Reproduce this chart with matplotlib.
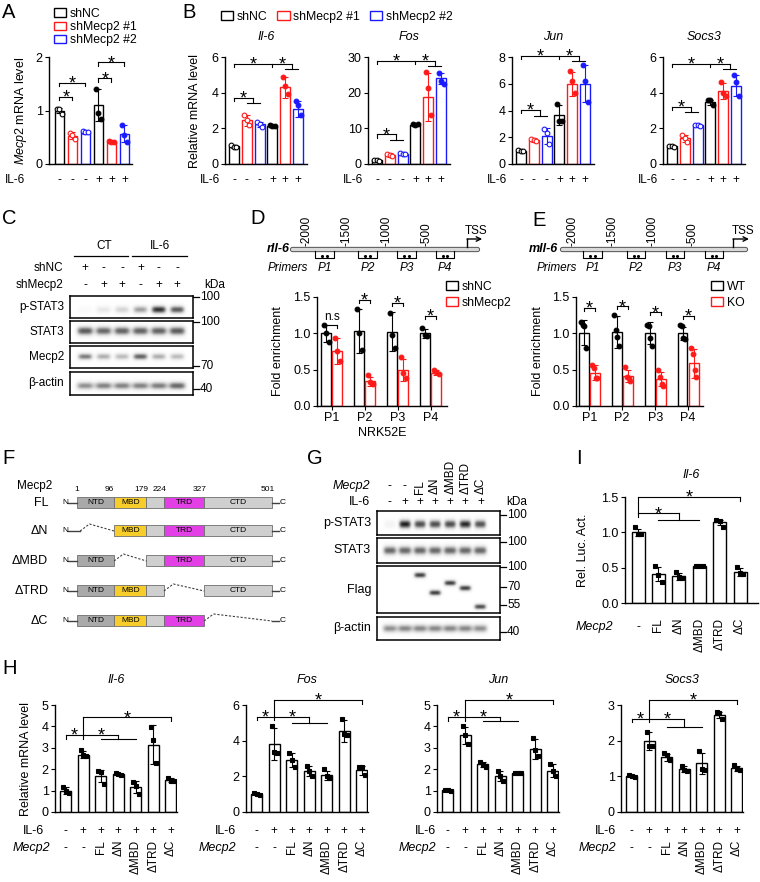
"""Mecp2 / IL-6 multi-panel figure (A-I) rebuilt with matplotlib"""
import numpy as np
import matplotlib
matplotlib.use('Agg')
import matplotlib.pyplot as plt
from matplotlib.patches import Rectangle, Patch

plt.rcParams['font.family'] = ['Liberation Sans', 'DejaVu Sans']
plt.rcParams['mathtext.fontset'] = 'custom'
plt.rcParams['mathtext.rm'] = 'Liberation Sans'
plt.rcParams['mathtext.it'] = 'Liberation Sans:italic'
plt.rcParams['font.size'] = 8.5
plt.rcParams['axes.linewidth'] = 1.0
plt.rcParams['axes.facecolor'] = 'none'

W, H = 760, 882
RED = '#ff1a1a'
BLUE = '#1a1aff'
FS = 8.5

# ---------------- data ----------------
sh_labels = ['shNC', 'shMecp2 #1', 'shMecp2 #2']
sh_colors = ['black', RED, BLUE]
il6_ab = ['-', '-', '-', '+', '+', '+']

# A
a_mean = [1.0, 0.53, 0.6, 1.1, 0.42, 0.57]
a_err = [0.05, 0.07, 0.03, 0.3, 0.02, 0.15]
a_pts = [[1.03, 1.03, 0.93], [0.58, 0.55, 0.47], [0.62, 0.6, 0.6],
         [1.4, 0.95, 0.85], [0.43, 0.42, 0.41], [0.72, 0.55, 0.42]]

# B
b_genes = ['Il-6', 'Fos', 'Jun', 'Socs3']
b_ymax = [6, 30, 8, 6]
b_yticks = [[0, 2, 4, 6], [0, 10, 20, 30], [0, 2, 4, 6, 8], [0, 2, 4, 6]]
b_mean = [[1.0, 2.45, 2.22, 2.15, 4.3, 3.1],
          [1.0, 2.5, 2.9, 11.0, 18.7, 24.0],
          [1.0, 1.8, 2.1, 3.65, 6.0, 6.0],
          [1.0, 1.45, 2.18, 3.45, 4.12, 4.4]]
b_err = [[0.08, 0.3, 0.15, 0.05, 0.6, 0.45],
         [0.2, 0.5, 0.2, 0.3, 6.7, 1.5],
         [0.08, 0.12, 0.6, 0.75, 0.9, 1.4],
         [0.05, 0.2, 0.05, 0.15, 0.45, 0.6]]
b_pts = [[[1.05, 0.98, 0.95], [2.75, 2.45, 2.2], [2.35, 2.25, 2.05],
          [2.2, 2.15, 2.13], [4.9, 4.35, 3.95], [3.55, 3.3, 2.75]],
         [[1.1, 1.0, 0.9], [2.9, 2.4, 2.3], [3.0, 2.9, 2.9],
          [11.2, 11.0, 11.1], [25.8, 21.2, 13.6], [25.5, 23.3, 22.4]],
         [[1.05, 1.0, 0.95], [1.9, 1.82, 1.75], [2.65, 2.3, 1.5],
          [4.45, 3.25, 3.2], [6.95, 6.2, 5.3], [7.4, 6.2, 4.6]],
         [[1.03, 1.0, 0.98], [1.6, 1.45, 1.25], [2.2, 2.2, 2.15],
          [3.6, 3.6, 3.3], [4.6, 4.0, 3.8], [5.0, 4.6, 3.8]]]
b_lo_brk = [(3.7, 3.4), (8.3, 6.8), (4.05, 3.6), (3.2, 2.9)]
b_hi_brk = [(5.6, 5.3), (29.0, 27.5), (8.1, 7.7), (5.6, 5.33)]

# C (band intensities, lanes left to right)
c_shnc = ['+', '-', '-', '+', '-', '-']
c_shmecp2 = ['-', '+', '+', '-', '+', '+']
c_pstat3 = [0.05, 0.18, 0.28, 0.5, 0.9, 0.75]
c_stat3 = [0.75, 0.7, 0.72, 0.72, 0.72, 0.75]
c_mecp2 = [0.62, 0.45, 0.4, 0.72, 0.45, 0.4]
c_actin = [0.55, 0.6, 0.6, 0.6, 0.62, 0.7]

# D / E
primer_names = ['P1', 'P2', 'P3', 'P4']
prom_ticks = [-2000, -1500, -1000, -500]
d_primers = [(-1900, -1662), (-1362, -1125), (-875, -637), (-387, -162)]
e_primers = [(-1875, -1637), (-1325, -1100), (-837, -612), (-350, -125)]
d_ctrl_mean = [1.0, 1.03, 1.02, 1.0]
d_ctrl_err = [0.12, 0.3, 0.27, 0.06]
d_ctrl_pts = [[1.12, 1.0, 0.88], [1.34, 1.0, 0.77], [1.28, 0.98, 0.8], [1.07, 0.98, 0.96]]
d_kd_mean = [0.76, 0.34, 0.49, 0.46]
d_kd_err = [0.18, 0.06, 0.15, 0.03]
d_kd_pts = [[0.94, 0.75, 0.62], [0.42, 0.33, 0.3], [0.68, 0.45, 0.38], [0.49, 0.47, 0.44]]
d_brk = [1.12, 1.46, 1.42, 1.24]
d_brk_txt = ['n.s', '*', '*', '*']
e_wt_mean = [1.01, 1.02, 1.0, 1.0]
e_wt_err = [0.17, 0.22, 0.15, 0.09]
e_wt_pts = [[1.15, 1.12, 1.1, 0.8], [1.25, 1.05, 0.95, 0.82],
            [1.12, 1.1, 0.93, 0.82], [1.12, 1.1, 0.93, 0.92]]
e_ko_mean = [0.46, 0.41, 0.37, 0.59]
e_ko_err = [0.1, 0.08, 0.1, 0.2]
e_ko_pts = [[0.56, 0.52, 0.38, 0.38], [0.54, 0.4, 0.38, 0.35],
            [0.5, 0.4, 0.3, 0.27], [0.8, 0.72, 0.5, 0.4]]
e_brk = [1.35, 1.37, 1.29, 1.24]

# F
f_names = ['FL', 'ΔN', 'ΔMBD', 'ΔTRD', 'ΔC']
f_bounds = [1, 96, 179, 224, 327, 501]
f_domains = ['NTD', 'MBD', '', 'TRD', 'CTD']
f_colors = ['#a9a9a9', '#f6cd2a', '#cfcfcf', '#e23fe6', '#cfcfcf']
f_deleted = [None, 0, 1, 3, 4]

# G
mut_labels = ['FL', 'ΔN', 'ΔMBD', 'ΔTRD', 'ΔC']
g_il6 = ['-', '+', '+', '+', '+', '+', '+']
g_pstat3 = [0.1, 0.95, 0.8, 0.8, 0.8, 0.92, 0.78]
g_stat3 = [0.7, 0.7, 0.7, 0.7, 0.7, 0.7, 0.7]
g_flag = [0.0, 0.0, 0.85, 0.85, 0.85, 0.85, 0.8]
g_flag_pos = [0.5, 0.5, 0.19, 0.57, 0.36, 0.47, 0.87]
g_actin = [0.55, 0.58, 0.58, 0.58, 0.58, 0.58, 0.55]

# H
h_genes = ['Il-6', 'Fos', 'Jun', 'Socs3']
h_il6 = ['-', '+', '+', '+', '+', '+', '+']
h_ymax = [5, 6, 5, 3]
h_yticks = [[0, 1, 2, 3, 4, 5], [0, 2, 4, 6], [0, 1, 2, 3, 4, 5], [0, 1, 2, 3]]
h_mean = [[1.0, 2.68, 1.68, 1.78, 1.15, 3.15, 1.48],
          [1.0, 3.8, 2.9, 2.3, 2.05, 4.55, 2.35],
          [1.02, 3.58, 2.22, 1.68, 1.82, 2.95, 1.92],
          [1.0, 1.98, 1.53, 1.21, 1.36, 2.72, 1.22]]
h_err = [[0.15, 0.15, 0.28, 0.05, 0.28, 0.9, 0.1],
         [0.05, 0.9, 0.4, 0.3, 0.25, 0.6, 0.25],
         [0.03, 0.4, 0.12, 0.22, 0.02, 0.45, 0.3],
         [0.03, 0.25, 0.1, 0.08, 0.3, 0.08, 0.08]]
h_pts = [[[1.18, 1.0, 0.88], [2.92, 2.65, 2.6], [1.9, 1.85, 1.3], [1.8, 1.78, 1.75],
          [1.4, 1.2, 0.85], [3.95, 3.35, 2.3], [1.6, 1.45, 1.45]],
         [[1.05, 1.0, 0.95], [4.8, 3.35, 3.3], [3.3, 2.9, 2.55], [2.6, 2.3, 2.0],
          [2.4, 2.0, 1.9], [5.2, 4.4, 4.3], [2.55, 2.5, 2.05]],
         [[1.05, 1.02, 1.0], [4.0, 3.6, 3.2], [2.35, 2.2, 2.1], [1.9, 1.7, 1.45],
          [1.84, 1.83, 1.82], [3.45, 2.9, 2.6], [2.25, 1.9, 1.7]],
         [[1.03, 1.0, 0.98], [2.25, 1.85, 1.85], [1.65, 1.6, 1.45], [1.3, 1.18, 1.15],
          [1.7, 1.2, 1.18], [2.8, 2.78, 2.62], [1.32, 1.2, 1.18]]]
h_lo_brk = [(3.6, 3.4), (5.35, 4.97), (4.45, 4.25), (2.62, 2.39)]
h_hi_brk = [4.43, 6.28, 5.23, 3.14]

# I
i_mean = [1.0, 0.41, 0.38, 0.52, 1.14, 0.44]
i_err = [0.05, 0.1, 0.05, 0.01, 0.04, 0.06]
i_pts = [[1.08, 0.98, 0.97], [0.52, 0.4, 0.3], [0.44, 0.37, 0.35],
         [0.53, 0.52, 0.52], [1.17, 1.16, 1.08], [0.51, 0.43, 0.41]]

# ---------------- helpers ----------------
fig = plt.figure(figsize=(W / 100, H / 100), dpi=100)
ov = fig.add_axes([0, 0, 1, 1])
ov.set_xlim(0, W)
ov.set_ylim(H, 0)
ov.axis('off')


def ax_px(l, t, r, b):
    return fig.add_axes([l / W, 1 - b / H, (r - l) / W, (b - t) / H])


def txt(px, py, s, **kw):
    kw.setdefault('ha', 'center')
    kw.setdefault('va', 'center')
    kw.setdefault('fontsize', FS)
    ov.text(px, py, s, **kw)


def hline(x1, x2, py, lw=0.9):
    ov.plot([x1, x2], [py, py], color='k', lw=lw)


def signs(ax, xs, labels, py, **kw):
    kw.setdefault('va', 'center')
    for x, s in zip(xs, labels):
        ax.annotate(s, xy=(x, H - py), xycoords=('data', 'figure pixels'),
                    ha='center', annotation_clip=False, fontsize=FS, **kw)


def style_bar_ax(ax, ymax, yticks, xlim, fmt='%g'):
    ax.set_ylim(0, ymax)
    ax.set_xlim(*xlim)
    ax.set_yticks(yticks)
    ax.set_yticklabels([fmt % v for v in yticks])
    ax.set_xticks([])
    for s in ['top', 'right']:
        ax.spines[s].set_visible(False)
    ax.tick_params(axis='both', length=3, width=0.8, labelsize=FS + 0.5, pad=1.5)


def draw_bars(ax, xs, means, errs, pts, colors, filled, width, marker='o', ms=3.4):
    for x, m, e, p, c, f in zip(xs, means, errs, pts, colors, filled):
        ax.bar(x, m, width, facecolor='white', edgecolor=c, linewidth=1.0, zorder=2)
        ax.errorbar(x, m, yerr=e, color=c, capsize=2, elinewidth=0.8,
                    capthick=0.8, zorder=3)
        off = np.linspace(-0.25, 0.25, len(p)) * width
        ax.plot(x + off, p, ls='none', marker=marker, ms=ms, mec=c,
                mfc=c if f else 'white', mew=0.8, zorder=4, clip_on=False)


def star(ax, x, y, s='*'):
    if s == '*':
        ax.annotate('*', xy=(x, y), xytext=(0, -4.2), textcoords='offset points',
                    ha='center', va='baseline', fontsize=13, annotation_clip=False)
    else:
        ax.annotate(s, xy=(x, y), xytext=(0, 1), textcoords='offset points',
                    ha='center', va='bottom', fontsize=FS, annotation_clip=False)


def bracket(ax, xs, y, drops, stars, s='*'):
    ax.plot([xs[0], xs[-1]], [y, y], color='k', lw=0.8, clip_on=False)
    for x, d in zip(xs, drops):
        ax.plot([x, x], [y, d], color='k', lw=0.8, clip_on=False)
    for sx in stars:
        star(ax, sx, y, s)


def group_line(ax, g1, g2, gy):
    ax.plot([g1, g2], [gy, gy], color='k', lw=0.8, clip_on=False)


def blot(box, xlim, intens, ypos=None, sigma=0.16, lane_w=0.8):
    ax = ax_px(*box)
    xs = np.linspace(xlim[0], xlim[1], 400)
    ys = np.linspace(0, 1, 90)
    X, Y = np.meshgrid(xs, ys)
    img = np.zeros_like(X)
    for i, a in enumerate(intens):
        yb = 0.5 if ypos is None else ypos[i]
        img += a * np.exp(-np.abs((X - i) / (lane_w / 2)) ** 4) \
            * np.exp(-((Y - yb) / sigma) ** 2)
    ax.imshow(np.clip(img, 0, 1), extent=(xlim[0], xlim[1], 1, 0), cmap='Greys',
              vmin=0, vmax=1.05, aspect='auto', interpolation='bilinear')
    ax.set_xlim(*xlim)
    ax.set_ylim(1, 0)
    ax.set_xticks([])
    ax.set_yticks([])
    for s in ax.spines.values():
        s.set_linewidth(1.1)
    return ax


def kda(x, py, s):
    ov.plot([x, x + 6], [py, py], color='k', lw=0.9)
    txt(x + 7, py, s, ha='left')


def legend(handles_colors, labels, px, py, ncol=1, spacing=0.1):
    handles = [Patch(facecolor='white', edgecolor=c, linewidth=1.0) for c in handles_colors]
    fig.legend(handles, labels, loc='upper left', bbox_to_anchor=(px / W, 1 - py / H),
               ncol=ncol, frameon=False, fontsize=FS + 0.3, handlelength=1.0,
               handleheight=0.7, handletextpad=0.3, columnspacing=0.8,
               labelspacing=spacing, borderpad=0, borderaxespad=0)


# panel letters
for lab, px, py in [('A', 2, 12), ('B', 182, 12), ('C', 2, 218), ('D', 250, 219),
                    ('E', 532, 221), ('F', 2, 459), ('G', 307, 459), ('I', 576, 459),
                    ('H', 2, 668)]:
    txt(px, py, lab, ha='left', fontsize=14.5)

# ---------------- A ----------------
ab_x = np.arange(6)
axA = ax_px(49, 57, 132, 164)
style_bar_ax(axA, 2, [0, 1, 2], (-0.8, 5.58))
draw_bars(axA, ab_x, a_mean, a_err, a_pts, sh_colors * 2, [s == '+' for s in il6_ab], 0.75)
bracket(axA, [0, 1], 1.25, [1.19, 1.19], [0.5])
bracket(axA, [0, 2], 1.52, [1.46, 1.46], [1.0])
bracket(axA, [3, 4], 1.6, [1.54, 1.54], [3.5])
bracket(axA, [3, 5], 1.9, [1.84, 1.84], [4.0])
axA.set_ylabel('$\\it{Mecp2}$ mRNA level', fontsize=FS + 0.5)
axA.yaxis.set_label_coords(-0.24, 0.5)
signs(axA, ab_x, il6_ab, 180)
txt(25, 180, 'IL-6', ha='right')
legend(sh_colors, sh_labels, 54, 8)

# ---------------- B ----------------
b_left = [225, 368, 512, 663]
for i, gene in enumerate(b_genes):
    ax = ax_px(b_left[i], 57, b_left[i] + 82, 164)
    style_bar_ax(ax, b_ymax[i], b_yticks[i], (-0.7, 5.7))
    draw_bars(ax, ab_x, b_mean[i], b_err[i], b_pts[i], sh_colors * 2,
              [s == '+' for s in il6_ab], 0.78)
    h = b_ymax[i] * 0.03
    lo, glo = b_lo_brk[i]
    bracket(ax, [0, 1.5], lo, [lo - h, glo], [0.75])
    group_line(ax, 1, 2, glo)
    hi, ghi = b_hi_brk[i]
    bracket(ax, [0, 3, 4.5], hi, [hi - h, hi - h, ghi], [1.5, 3.75])
    group_line(ax, 4, 5, ghi)
    ax.annotate(gene, xy=(0.5, H - 37), xycoords=('axes fraction', 'figure pixels'),
                ha='center', va='center', style='italic', fontsize=FS + 0.5)
    signs(ax, ab_x, il6_ab, 180)
    txt(b_left[i] - 5, 180, 'IL-6', ha='right')
    if i == 0:
        ax.set_ylabel('Relative mRNA level', fontsize=FS + 0.5)
        ax.yaxis.set_label_coords(-0.29, 0.5)
legend(sh_colors, sh_labels, 221, 11, ncol=3)

# ---------------- C ----------------
c_xlim = (-0.82, 5.85)
c_lanes = np.arange(6)
axc1 = blot((70, 296, 193, 318), c_xlim, c_pstat3, [0.62] * 6, sigma=0.17)
blot((70, 321, 193, 343), c_xlim, c_stat3, [0.45] * 6, sigma=0.2, lane_w=0.9)
blot((70, 346, 193, 368), c_xlim, c_mecp2, [0.48] * 6, sigma=0.15)
blot((70, 372, 193, 395), c_xlim, c_actin, [0.6] * 6, sigma=0.17, lane_w=0.95)
for name, py in [('p-STAT3', 307), ('STAT3', 332), ('Mecp2', 357), ('β-actin', 383)]:
    txt(64, py, name, ha='right')
signs(axc1, c_lanes, c_shnc, 268)
signs(axc1, c_lanes, c_shmecp2, 285)
txt(63, 268, 'shNC', ha='right')
txt(63, 285, 'shMecp2', ha='right')
hline(74, 128, 256)
hline(132, 187, 256)
txt(104, 246, 'CT')
txt(160, 246, 'IL-6')
txt(204, 285, 'kDa', ha='left')
for py, s in [(297, '100'), (322, '100'), (366, '70'), (389, '40')]:
    kda(193, py, s)


# ---------------- D & E schematics ----------------
def promoter(box, zero_px, name, name_px, prim_px, line_bp, primers, tss_w):
    l, t, r, b = box
    ax = ax_px(l, t, r, b)
    ax.set_xlim((l - zero_px) / 0.08, (r - zero_px) / 0.08)
    ax.set_ylim(b, t)
    ax.axis('off')
    ax.plot(line_bp, [249, 249], color='#505050', lw=3.8, solid_capstyle='round')
    ax.plot(line_bp, [249, 249], color='#d8d8d8', lw=2.4, solid_capstyle='round')
    for tk in prom_ticks:
        ax.text(tk, 245.5, str(tk), rotation=90, ha='center', va='bottom', fontsize=FS)
    ax.plot([0, 0], [246.5, 239], color='k', lw=1)
    ax.annotate('', xy=(tss_w, 239), xytext=(0, 239),
                arrowprops=dict(arrowstyle='->', lw=1, color='k', shrinkA=0, shrinkB=0,
                                mutation_scale=8))
    ax.text(tss_w * 0.6, 231, 'TSS', ha='center', va='center', fontsize=FS)
    for (s, e), pn in zip(primers, primer_names):
        c = (s + e) / 2
        ax.plot([s, s, e, e], [251.5, 258.5, 258.5, 251.5], color='k', lw=0.8)
        ax.plot([c - 28, c + 28], [256.5, 256.5], ls='none', marker='.', ms=2.5, color='k')
        ax.text(c, 268, pn, ha='center', va='center', style='italic', fontsize=FS)
    ax.text((name_px - zero_px) / 0.08, 249, name, ha='right', va='center',
            style='italic', weight='bold', fontsize=FS + 0.5)
    ax.text((prim_px - zero_px) / 0.08, 268, 'Primers', ha='center', va='center',
            style='italic', fontsize=FS)


promoter((250, 212, 492, 272), 467, 'rIl-6', 290, 288, [-2190, 125], d_primers, 190)
promoter((520, 212, 760, 272), 733, 'mIl-6', 558, 557, [-2140, 150], e_primers, 200)


# ---------------- D & E charts ----------------
def chip_chart(box, xlim, cm, ce, cp, km, ke, kp, brk, brk_txt, leg, leg_px, ylab_px):
    ax = ax_px(*box)
    style_bar_ax(ax, 1.5, [0, 0.5, 1.0, 1.5], xlim, fmt='%.1f')
    gx = np.arange(4)
    draw_bars(ax, gx - 0.17, cm, ce, cp, ['black'] * 4, [True] * 4, 0.3)
    draw_bars(ax, gx + 0.17, km, ke, kp, [RED] * 4, [True] * 4, 0.3)
    ax.set_xticks(gx)
    ax.set_xticklabels(primer_names)
    for x, y, s in zip(gx, brk, brk_txt):
        bracket(ax, [x - 0.17, x + 0.17], y, [y - 0.04, y - 0.04], [x], s)
    ax.set_ylabel('Fold enrichment', fontsize=FS + 0.5)
    ax.yaxis.set_label_coords((ylab_px - box[0]) / (box[2] - box[0]), 0.5)
    legend(['black', RED], leg, leg_px, 281, spacing=0.3)
    return ax


chip_chart((317, 297, 447, 406), (-0.45, 3.5), d_ctrl_mean, d_ctrl_err, d_ctrl_pts,
           d_kd_mean, d_kd_err, d_kd_pts, d_brk, d_brk_txt, ['shNC', 'shMecp2'], 446, 284)
txt(382, 433, 'NRK52E', fontsize=FS + 0.5)
chip_chart((576, 297, 703, 406), (-0.4, 3.45), e_wt_mean, e_wt_err, e_wt_pts,
           e_ko_mean, e_ko_err, e_ko_pts, e_brk, ['*'] * 4, ['WT', 'KO'], 711, 544)

# ---------------- F ----------------
axF = ax_px(0, 470, 300, 640)
axF.set_xlim(1 + (0 - 77) / 0.39, 1 + (300 - 77) / 0.39)
axF.set_ylim(640, 470)
axF.axis('off')
f_rows = [503, 531, 561, 591, 621]
axF.text(1 + (17 - 77) / 0.39, 486, 'Mecp2', ha='left', va='center', fontsize=FS)
for k, bnd in enumerate(f_bounds):
    axF.text(bnd - (0 if k == 0 else 12), 490, str(bnd), ha='center', va='center', fontsize=6)
for name, y, dele in zip(f_names, f_rows, f_deleted):
    axF.text(-73, y, name, ha='right', va='center', fontsize=FS + 0.5)
    axF.text(-30, y, 'N', ha='center', va='center', fontsize=6)
    axF.plot([-22, 9 if dele == 0 else 1], [y, y], color='#404040', lw=1)
    for k in range(5):
        x0, x1 = f_bounds[k], f_bounds[k + 1]
        if k == dele:
            start = 9 if k == 0 else x0
            axF.plot([start, start + 24, x1], [y, y - 7, y], color='#404040',
                     lw=0.8, ls=(0, (2, 1.5)))
            continue
        axF.add_patch(Rectangle((x0, y - 5.5), x1 - x0, 11, facecolor=f_colors[k],
                                edgecolor='#6e6e6e', lw=0.6))
        if f_domains[k]:
            axF.text((x0 + x1) / 2, y, f_domains[k], ha='center', va='center', fontsize=6)
    axF.plot([501, 519], [y, y], color='#404040', lw=1)
    axF.text(527, y, 'C', ha='center', va='center', fontsize=6)

# ---------------- G ----------------
g_xlim = (-0.85, 7.3)
g_lanes = np.arange(7)
axg1 = blot((377, 511, 500, 535), g_xlim, g_pstat3, [0.55] * 7, sigma=0.18)
blot((377, 538, 500, 563), g_xlim, g_stat3, [0.5] * 7, sigma=0.18, lane_w=0.9)
blot((377, 566, 500, 613), g_xlim, g_flag, g_flag_pos, sigma=0.06)
blot((377, 617, 500, 640), g_xlim, g_actin, [0.5] * 7, sigma=0.18, lane_w=0.98)
for name, py in [('p-STAT3', 523), ('STAT3', 550), ('Flag', 590), ('β-actin', 628)]:
    txt(371, py, name, ha='right', fontsize=FS + 0.5)
signs(axg1, g_lanes[:2], ['-', '-'], 486)
signs(axg1, g_lanes[2:], mut_labels, 494, rotation=90, va='bottom')
signs(axg1, g_lanes, g_il6, 502)
txt(370, 486, 'Mecp2', ha='right', style='italic', fontsize=FS + 0.5)
txt(370, 502, 'IL-6', ha='right', fontsize=FS + 0.5)
txt(506, 502, 'kDa', ha='left')
for py, s in [(515, '100'), (542, '100'), (567, '100'), (587, '70'), (605, '55'), (632, '40')]:
    kda(500, py, s)

# ---------------- I ----------------
i_x = np.arange(6)
axI = ax_px(625, 497, 758, 603)
style_bar_ax(axI, 1.5, [0, 0.5, 1.0, 1.5], (-0.64, 5.88), fmt='%.1f')
draw_bars(axI, i_x, i_mean, i_err, i_pts, ['black'] * 6, [True] * 6, 0.64, marker='s', ms=3)
bracket(axI, [0, 2], 1.27, [1.22, 1.18], [1])
group_line(axI, 1, 3, 1.18)
bracket(axI, [0, 5], 1.5, [1.27, 1.45], [2.5])
axI.annotate('Il-6', xy=(0.5, H - 475), xycoords=('axes fraction', 'figure pixels'),
             ha='center', va='center', style='italic', fontsize=FS + 0.5)
axI.set_ylabel('Rel. Luc. Act.', fontsize=FS + 0.5)
axI.yaxis.set_label_coords(-0.27, 0.5)
signs(axI, i_x[:1], ['-'], 627)
signs(axI, i_x[1:], mut_labels, 618, rotation=90, va='top')
txt(613, 627, 'Mecp2', ha='right', style='italic', fontsize=FS + 0.5)

# ---------------- H ----------------
h_x = np.arange(7)
h_left = [55, 246, 437, 621]
h_lab_right = [44, 236, 436, 616]
h_mecp2_right = [50, 236, 436, 616]
for i, gene in enumerate(h_genes):
    ax = ax_px(h_left[i], 705, h_left[i] + 122, 812)
    style_bar_ax(ax, h_ymax[i], h_yticks[i], (-0.62, 6.35))
    draw_bars(ax, h_x, h_mean[i], h_err[i], h_pts[i], ['black'] * 7, [True] * 7,
              0.63, marker='s', ms=3)
    h = h_ymax[i] * 0.035
    lo, glo = h_lo_brk[i]
    bracket(ax, [0, 1, 3], lo, [lo - h, lo - h, glo], [0.5, 2])
    group_line(ax, 2, 4, glo)
    hi = h_hi_brk[i]
    bracket(ax, [1, 6], hi, [lo, hi - h], [3.5])
    ax.annotate(gene, xy=(0.5, H - 680), xycoords=('axes fraction', 'figure pixels'),
                ha='center', va='center', style='italic', fontsize=FS + 0.5)
    signs(ax, h_x, h_il6, 831)
    signs(ax, h_x[:2], ['-', '-'], 848)
    signs(ax, h_x[2:], mut_labels, 840, rotation=90, va='top')
    txt(h_lab_right[i], 831, 'IL-6', ha='right', fontsize=FS + 0.5)
    txt(h_mecp2_right[i], 848, 'Mecp2', ha='right', style='italic', fontsize=FS + 0.5)
    if i == 0:
        ax.set_ylabel('Relative mRNA level', fontsize=FS + 0.5)
        ax.yaxis.set_label_coords(-0.19, 0.5)

fig.savefig('out.png', dpi=100)
